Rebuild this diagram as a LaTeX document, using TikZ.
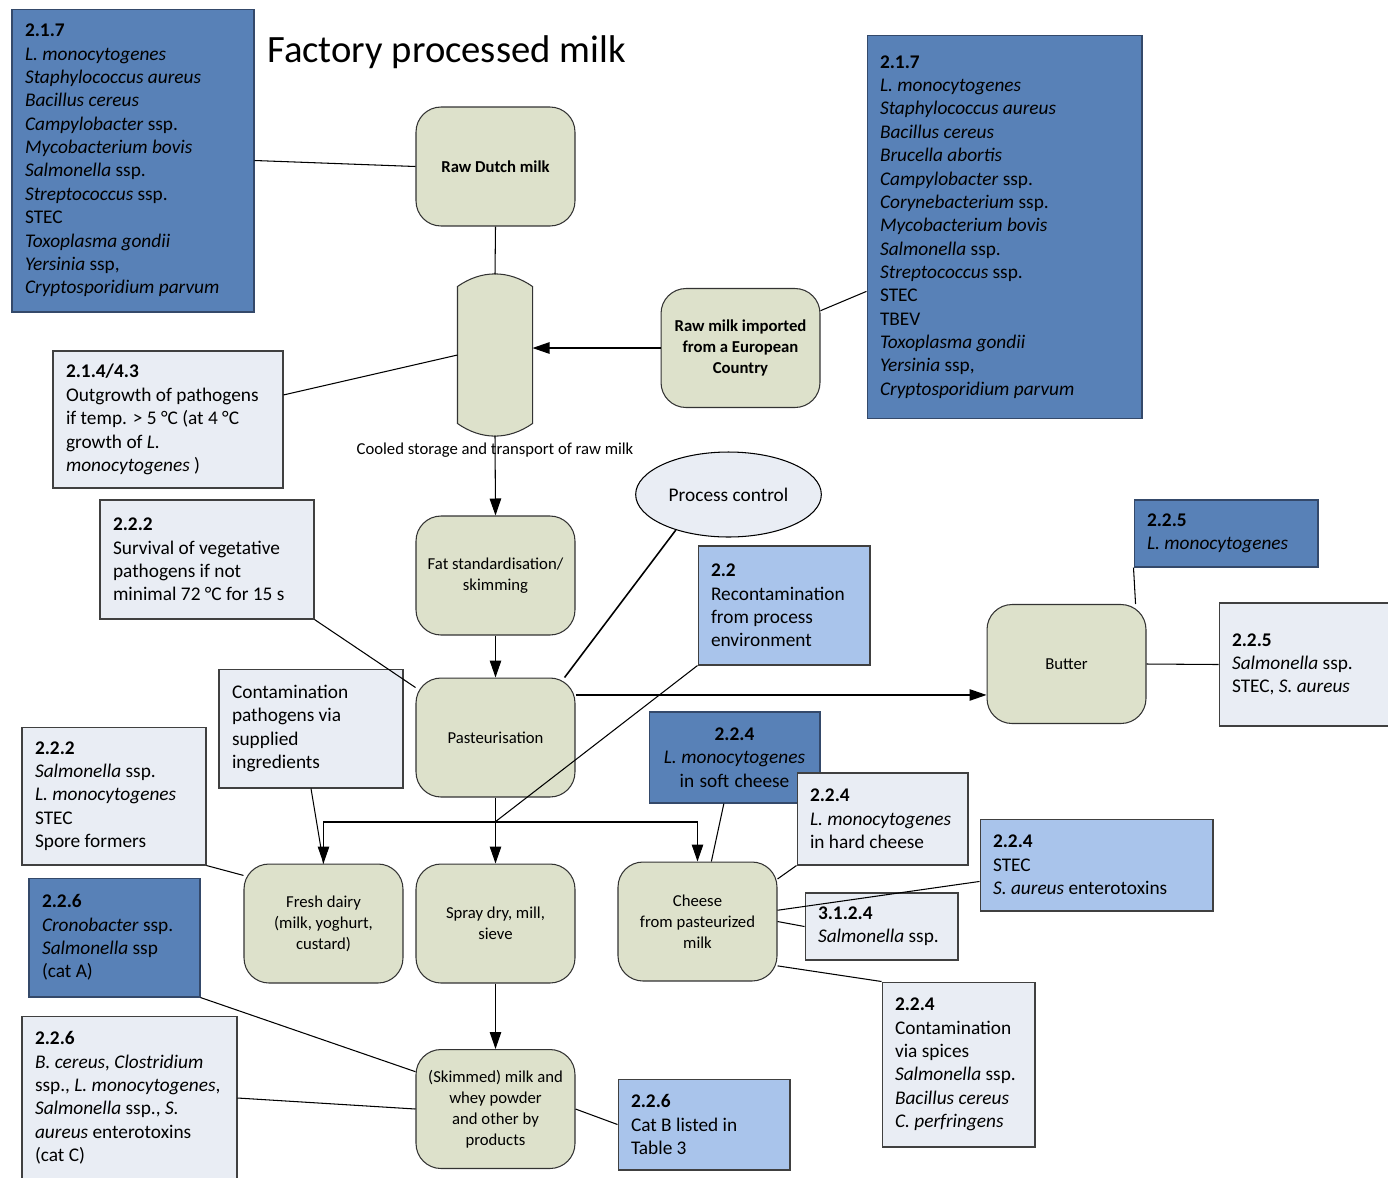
\documentclass[tikz,border=0pt]{standalone}
\usepackage{fontspec}
\setmainfont{Carlito}
\usetikzlibrary{calc,shapes.geometric,arrows.meta}
\definecolor{procfill}{HTML}{DDE1CB}
\definecolor{darkbox}{HTML}{5881B7}
\definecolor{darkline}{HTML}{34496A}
\definecolor{lightbox}{HTML}{E9EDF4}
\definecolor{midbox}{HTML}{A9C4EB}
\begin{document}
\begin{tikzpicture}[x=0.02cm,y=-0.02cm,line width=0.6pt,
  >={Triangle[length=0.34cm,width=0.23cm]}]
  \useasboundingbox (0,0) rectangle (1388,1177);
  \tikzstyle{proc}=[draw=black!80, fill=procfill, rounded corners=0.5cm,
    minimum width=3.18cm, minimum height=2.38cm, align=center, inner sep=2pt,
    font=\fontsize{9.5}{12}\selectfont]
  \tikzstyle{risk}=[draw=black!75, inner xsep=0.26cm, inner ysep=0pt, align=left,
    font=\fontsize{11}{13.3}\selectfont,
    execute at begin node={\spaceskip=0pt\xspaceskip=0pt\hyphenpenalty=10000}]
  \tikzstyle{dark}=[risk, fill=darkbox, draw=darkline]
  \tikzstyle{light}=[risk, fill=lightbox]
  \tikzstyle{mid}=[risk, fill=midbox]

  \node[anchor=west, font=\fontsize{22}{26}\selectfont] (title) at (261,52) {Factory processed milk};

  % process steps
  \node[proc, font=\fontsize{9.5}{12}\selectfont\bfseries] (rawmilk) at (495.5,166.5) {Raw Dutch milk};
  \node[proc, font=\fontsize{9.5}{12}\selectfont\bfseries] (imported) at (740.5,348) {Raw milk imported\\from a European\\Country};
  \node[minimum width=1.48cm, minimum height=3.2cm, inner sep=0pt] (tank) at (495,355) {};
  \draw[draw=black!80, fill=procfill] ([yshift=-0.24cm]tank.north west) to[bend left=35]
    ([yshift=-0.24cm]tank.north east) -- ([yshift=0.24cm]tank.south east) to[bend left=35]
    ([yshift=0.24cm]tank.south west) -- cycle;
  \node[font=\fontsize{9.5}{12}\selectfont] (coollbl) at (495,450) {Cooled storage and transport of raw milk};
  \node[proc] (fatstd) at (495.5,575.5) {Fat standardisation/\\skimming};
  \node[ellipse, draw, fill=lightbox, minimum width=3.66cm, minimum height=1.7cm,
    font=\fontsize{11}{13}\selectfont] (ctrl) at (728.5,494.5) {Process control};
  \node[proc] (past) at (495.5,737.5) {Pasteurisation};
  \node[proc] (butter) at (1066.5,664) {Butter};
  \node[proc] (fresh) at (323.5,923.5) {Fresh dairy\\(milk, yoghurt,\\custard)};
  \node[proc] (spray) at (495.5,923.5) {Spray dry, mill,\\sieve};
  \node[proc] (cheese) at (697.5,921.5) {Cheese\\from pasteurized\\milk};
  \node[proc] (skim) at (495.5,1109) {(Skimmed) milk and\\whey powder\\and other by\\products};
  \coordinate (split) at (495,822);

  % hazards
  \node[dark, text width=4.32cm, minimum height=6.06cm] (hzRaw) at (133,160.5) {\textbf{2.1.7}\\
    \textit{L. monocytogenes}\\ \textit{Staphylococcus aureus}\\ \textit{Bacillus cereus}\\
    \textit{Campylobacter} ssp.\\ \textit{Mycobacterium bovis}\\ \textit{Salmonella} ssp.\\
    \textit{Streptococcus} ssp.\\ STEC\\ \textit{Toxoplasma gondii}\\ \textit{Yersinia} ssp,\\
    \textit{Cryptosporidium parvum}};
  \node[dark, text width=4.98cm, minimum height=7.68cm] (hzImport) at (1004.5,227) {\textbf{2.1.7}\\
    \textit{L. monocytogenes}\\ \textit{Staphylococcus aureus}\\ \textit{Bacillus cereus}\\
    \textit{Brucella abortis}\\ \textit{Campylobacter} ssp.\\ \textit{Corynebacterium} ssp.\\
    \textit{Mycobacterium bovis}\\ \textit{Salmonella} ssp.\\ \textit{Streptococcus} ssp.\\
    STEC\\ TBEV\\ \textit{Toxoplasma gondii}\\ \textit{Yersinia} ssp,\\ \textit{Cryptosporidium parvum}};
  \node[light, text width=4.08cm, minimum height=2.74cm] (hzCool) at (168,419.5) {\textbf{2.1.4/4.3}\\
    Outgrowth of pathogens\\ if temp. > 5 °C (at 4 °C\\ growth of \textit{L.}\\ \textit{monocytogenes} )};
  \node[light, text width=3.76cm, minimum height=2.38cm] (hzPast) at (207,559.5) {\textbf{2.2.2}\\
    Survival of vegetative\\ pathogens if not\\ minimal 72 °C for 15 s};
  \node[mid, text width=2.92cm, minimum height=2.38cm] (hzRecont) at (784,605.5) {\textbf{2.2}\\
    Recontamination\\ from process\\ environment};
  \node[dark, text width=3.16cm, minimum height=1.34cm] (hzButterL) at (1226,533.5) {\textbf{2.2.5}\\
    \textit{L. monocytogenes}};
  \node[light, text width=2.88cm, minimum height=2.46cm] (hzButterS) at (1304,664.5) {\textbf{2.2.5}\\
    \textit{Salmonella} ssp.\\ STEC, \textit{S. aureus}};
  \node[light, text width=3.16cm, minimum height=2.38cm] (hzIngr) at (311,728.5) {Contamination\\
    pathogens via\\ supplied\\ ingredients};
  \node[light, text width=3.16cm, minimum height=2.76cm] (hzFresh) at (114,796) {\textbf{2.2.2}\\
    \textit{Salmonella} ssp.\\ \textit{L. monocytogenes}\\ STEC\\ Spore formers};
  \node[dark, align=center, text width=2.9cm, minimum height=1.82cm] (hzSoft) at (734.5,757.5) {\textbf{2.2.4}\\
    \textit{L. monocytogenes}\\ in soft cheese};
  \node[light, text width=2.9cm, minimum height=1.84cm] (hzHard) at (882.5,819) {\textbf{2.2.4}\\
    \textit{L. monocytogenes}\\ in hard cheese};
  \node[mid, text width=4.14cm, minimum height=1.84cm] (hzStec) at (1096.5,865) {\textbf{2.2.4}\\
    STEC\\ \textit{S. aureus} enterotoxins};
  \node[light, text width=2.54cm, minimum height=1.34cm] (hzSalm) at (881.5,926.5) {\textbf{3.1.2.4}\\
    \textit{Salmonella} ssp.};
  \node[light, text width=2.54cm, minimum height=3.3cm] (hzSpice) at (958.5,1064.5) {\textbf{2.2.4}\\
    Contamination\\ via spices\\ \textit{Salmonella} ssp.\\ \textit{Bacillus cereus}\\ \textit{C. perfringens}};
  \node[dark, text width=2.9cm, minimum height=2.38cm] (hzCrono) at (114.5,937.5) {\textbf{2.2.6}\\
    \textit{Cronobacter} ssp.\\ \textit{Salmonella} ssp\\ (cat A)};
  \node[light, text width=3.78cm, minimum height=3.28cm] (hzCatC) at (129.5,1098) {\textbf{2.2.6}\\
    \textit{B. cereus, Clostridium}\\ ssp., \textit{L. monocytogenes},\\ \textit{Salmonella} ssp., \textit{S.}\\
    \textit{aureus} enterotoxins\\ (cat C)};
  \node[mid, text width=2.92cm, minimum height=1.82cm] (hzCatB) at (704,1124.5) {\textbf{2.2.6}\\
    Cat B listed in\\ Table 3};

  % flow
  \draw (rawmilk.south) -- (tank.north);
  \draw[->] (imported.west) -- (imported.west -| tank.east);
  \foreach \a/\b in {tank/fatstd,fatstd/past,past/spray,spray/skim}
    \draw[->] (\a.south) -- (\b.north);
  \draw[->] (split) -| (fresh.north);
  \draw[->] (split) -| (cheese.north);
  \draw[->] (past.28) -- (past.28 -| butter.west);
  \draw[line width=0.9pt] (ctrl.214) -- (past.41);

  % hazard links
  \draw (hzRaw.east) -- (rawmilk.west);
  \draw (imported.25) -- (hzImport.205);
  \draw (hzCool.12) -- (tank.west);
  \draw (hzPast.south east) -- (past.148);
  \draw (hzRecont.south west) -- (split);
  \draw (hzButterL.south west) -- (butter.41);
  \draw (butter.east) -- (hzButterS.west);
  \draw (hzIngr.south) -- (fresh.north);
  \draw (hzFresh.south east) -- (fresh.149);
  \draw (hzSoft.257) -- (cheese.77);
  \draw (hzHard.south west) -- (cheese.28);
  \draw (hzStec.188) -- (cheese.8);
  \draw (cheese.east) -- (hzSalm.west);
  \draw (cheese.331) -- (hzSpice.north west);
  \draw (hzCrono.south east) -- (skim.155);
  \draw (hzCatC.east) -- (skim.west);
  \draw (skim.east) -- (hzCatB.west);
\end{tikzpicture}
\end{document}
